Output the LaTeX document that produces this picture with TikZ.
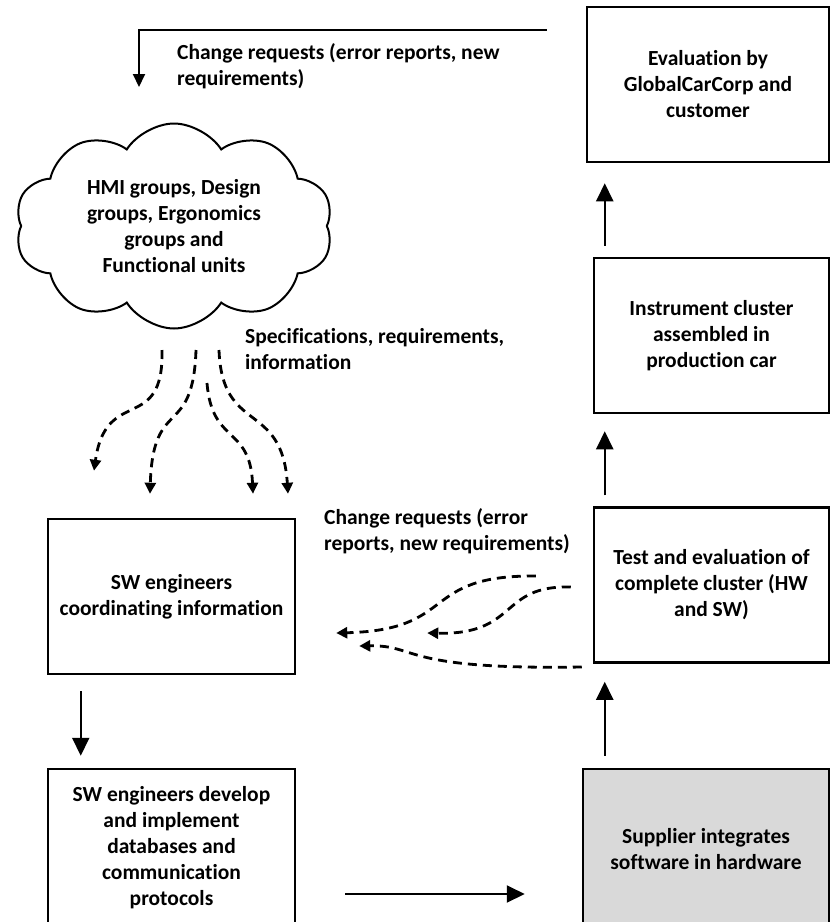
\documentclass[tikz,border=0pt]{standalone}
\usepackage{fontspec}
\setmainfont{Carlito}[Ligatures=NoCommon]
\usetikzlibrary{calc}
\usetikzlibrary{shapes.symbols}
\usetikzlibrary{arrows.meta}
\definecolor{supplierfill}{RGB}{217,217,217}

\begin{document}
\begin{tikzpicture}[x=1pt,y=-1pt,
  procbox/.style={draw,line width=2.5pt,align=center,inner sep=0pt,font=\fontsize{21.5}{26}\selectfont\bfseries},
  flowtext/.style={align=left,inner sep=0pt,anchor=west,font=\fontsize{21.5}{26}\selectfont\bfseries},
  flow/.style={line width=2pt,-{Triangle[length=18pt,width=17pt]}},
  feedback/.style={line width=2.8pt,dash pattern=on 9pt off 6pt,-{Triangle[length=11pt,width=11pt]}}]

\useasboundingbox (0,0) rectangle (831,922);

% Set box dimensions
\def\bw{242} %<- width of the right boxes
\def\bh{155} %<- height of all boxes
\def\lw{247} %<- width of the left boxes

% Right column
\node[procbox,minimum width=\bw pt,minimum height=\bh pt] (Eval) at (708,84.5) {Evaluation by\\GlobalCarCorp and\\customer};
\node[procbox,minimum width=235pt,minimum height=\bh pt] (Instr) at (711.5,335.5) {Instrument cluster\\assembled in\\production car};
\node[procbox,minimum width=235pt,minimum height=\bh pt] (Test) at (711.5,585) {Test and evaluation of\\complete cluster (HW\\and SW)};
\node[procbox,fill=supplierfill,minimum width=246pt,minimum height=160pt] (Supplier) at (706,849) {Supplier integrates\\software in hardware};

% Left column
\node[cloud,draw,line width=2pt,cloud puffs=10,cloud puff arc=115,aspect=1.6,minimum width=318pt,minimum height=205pt,inner sep=0pt,align=center,font=\fontsize{21.5}{26}\selectfont\bfseries] (Cloud) at (174,226) {HMI groups, Design\\groups, Ergonomics\\groups and\\Functional units};
\node[procbox,minimum width=\lw pt,minimum height=\bh pt] (Coord) at (171.5,596.5) {SW engineers\\coordinating information};
\node[procbox,minimum width=\lw pt,minimum height=157pt] (Develop) at (171.5,847.5) {SW engineers develop\\and implement\\databases and\\communication\\protocols};

% Labels
\node[flowtext] (CRTop) at (177,66.5) {Change requests (error reports, new\\requirements)};
\node[flowtext] (Spec) at (245,349) {Specifications, requirements,\\information};
\node[flowtext] (CRMid) at (324,531.5) {Change requests (error\\reports, new requirements)};

% Solid arrows
\draw[flow] ($(Supplier.north west)+(23,-12)$) -- ($(Test.south west)+(12,18)$);
\draw[flow] ($(Test.north west)+(12,-11)$) -- ($(Instr.south west)+(12,17)$);
\draw[flow] ($(Instr.north west)+(12,-11)$) -- ($(Eval.south west)+(19,20)$);
\draw[flow] ($(Coord.south west)+(34,16)$) -- ($(Develop.north west)+(34,-12)$);
\draw[flow] ($(Develop.east)+(49,46.5)$) -- ($(Supplier.west)+(-57,45)$);
\draw[line width=2pt,-{Triangle[length=13pt,width=12pt]}] ($(Eval.north west)+(-39,24)$) -| ($(Cloud.center)+(-35,-139)$);

% Specifications (dashed)
\coordinate (SpecStart) at ($(Cloud.center)+(0,124)$);
\draw[feedback] ($(SpecStart)+(-12,0)$) .. controls ($(SpecStart)+(-10,85)$) and ($(SpecStart)+(-68,35)$) .. ($(Coord.north)+(-77.5,-47)$);
\draw[feedback] ($(SpecStart)+(22,0)$) .. controls ($(SpecStart)+(19,90)$) and ($(SpecStart)+(-21,45)$) .. ($(Coord.north)+(-21.5,-24)$);
\draw[feedback] ($(SpecStart)+(33,33)$) .. controls ($(SpecStart)+(38,95)$) and ($(SpecStart)+(76,75)$) .. ($(Coord.north)+(81.5,-24)$);
\draw[feedback] ($(SpecStart)+(45,0)$) .. controls ($(SpecStart)+(48,85)$) and ($(SpecStart)+(108,50)$) .. ($(Coord.north)+(116.5,-24)$);

% Change requests (dashed)
\draw[feedback] ($(Test.west)+(-57,-9)$) .. controls ($(Test.west)+(-174,-10)$) and ($(Test.west)+(-134,45)$) .. ($(Coord.east)+(40,36.5)$);
\draw[feedback] ($(Test.west)+(-22,2)$) .. controls ($(Test.west)+(-94,0)$) and ($(Test.west)+(-74,50)$) .. ($(Coord.east)+(131,36.5)$);
\draw[feedback] ($(Test.west)+(-11,82)$) .. controls ($(Test.west)+(-194,85)$) and ($(Test.west)+(-174,60)$) .. ($(Coord.east)+(63,49.5)$);

\end{tikzpicture}
\end{document}
